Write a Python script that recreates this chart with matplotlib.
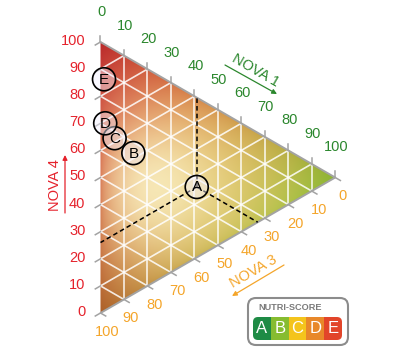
import numpy as np
import matplotlib
matplotlib.use('Agg')
import matplotlib.pyplot as plt
from matplotlib.patches import Polygon, Circle, FancyBboxPatch, Rectangle

plt.rcParams['font.family'] = ['Liberation Sans', 'DejaVu Sans']

# 数据 (百分比)
points = ['A', 'B', 'C', 'D', 'E']
nova1 = [41, 14, 6, 2, 1.5]
nova3 = [33, 34, 32.5, 29, 13]
nova4 = [26, 52, 61.5, 69, 85.5]
ticks = list(range(0, 101, 10))
score_letters = ['A', 'B', 'C', 'D', 'E']
score_colors = ['#1e8b45', '#86bc30', '#f4c41c', '#e8882a', '#e2452a']

RED = '#e5222c'
GREEN = '#2b872d'
ORANGE = '#f4a52a'
GRAY = '#a3a3a3'

R3 = np.sqrt(3) / 2
S = 271.0            # 每单位像素
OX, OY = 100.5, 313.0  # 左下角顶点像素位置


def tern(n1, n4):
    """(NOVA1, NOVA4) 百分比 -> 笛卡尔坐标"""
    n1 = np.asarray(n1, dtype=float) / 100.0
    n4 = np.asarray(n4, dtype=float) / 100.0
    return n1 * R3, n4 + 0.5 * n1


def px(d):
    return d / S


def P(xp, yp):
    return (xp - OX) / S, (OY - yp) / S


fig = plt.figure(figsize=(4, 3.54), dpi=100)
ax = fig.add_axes([0, 0, 1, 1])
ax.axis('off')

# 渐变背景
res = 500
X, Y = np.meshgrid(np.linspace(0, R3, res), np.linspace(0, 1, res))
b1 = np.clip(X / R3, 0, 1)
b4 = np.clip(Y - 0.5 * b1, 0, 1)
b3 = np.clip(1 - b1 - b4, 0, 1)

c4 = np.array([185, 40, 42])
c1 = np.array([140, 180, 50])
c3 = np.array([172, 95, 40])
m41 = np.array([210, 140, 70])
m13 = np.array([198, 182, 80])
m34 = np.array([212, 105, 72])
q41 = 2 * m41 - (c4 + c1) / 2
q13 = 2 * m13 - (c1 + c3) / 2
q34 = 2 * m34 - (c3 + c4) / 2

w = [b1 ** 2, b3 ** 2, b4 ** 2, 2 * b4 * b1, 2 * b1 * b3, 2 * b3 * b4]
cs = [c1, c3, c4, q41, q13, q34]
img = sum(wi[..., None] * ci for wi, ci in zip(w, cs))

edge = np.clip(27 * b1 * b3 * b4, 0, 1) ** 0.4
for gx, gy, sig, amt, col in [(0.36, 0.45, 0.26, 0.55, (232, 215, 120)),
                              (0.17, 0.46, 0.19, 0.85, (251, 243, 200))]:
    g = amt * edge * np.exp(-((X - gx) ** 2 + (Y - gy) ** 2) / (2 * sig ** 2))
    img = img * (1 - g[..., None]) + np.array(col) * g[..., None]
img = np.clip(img / 255.0, 0, 1)

im = ax.imshow(img, extent=(0, R3, 0, 1), origin='lower',
               interpolation='bilinear', zorder=1)
tri = Polygon([(0, 0), (0, 1), (R3, 0.5)], closed=True,
              facecolor='none', edgecolor='none')
ax.add_patch(tri)
im.set_clip_path(tri)

# 网格
for k in ticks[1:-1]:
    segs = [(tern([k, k], [100 - k, 0])),
            (tern([0, 100 - k], [k, k])),
            (tern([0, 100 - k], [100 - k, 0]))]
    for sx, sy in segs:
        ax.plot(sx, sy, color='white', lw=1.2, alpha=0.85, zorder=2)

# 边框
ex, ey = tern([0, 100, 0], [100, 0, 0])
ax.plot(ex, ey, color=GRAY, lw=1.4, zorder=3, solid_capstyle='butt')

# 刻度和刻度标签
L = px(6)
for k in ticks:
    x, y = tern(k, 100 - k)
    ax.plot([x, x], [y, y + L], color=GRAY, lw=1.1, zorder=3)
    ax.text(x + px(1), y + px(30), str(k), color=GREEN, fontsize=10.5,
            ha='center', va='center')

    x, y = tern(0, k)
    ax.plot([x, x - R3 * L], [y, y - 0.5 * L], color=GRAY, lw=1.1, zorder=3)
    ax.text(x - px(15), y + px(1), str(k), color=RED, fontsize=10.5,
            ha='right', va='center')

    x, y = tern(100 - k, 0)
    ax.plot([x, x + R3 * L], [y, y - 0.5 * L], color=GRAY, lw=1.1, zorder=3)
    ax.text(x + px(7), y - px(19), str(k), color=ORANGE, fontsize=10.5,
            ha='center', va='center')

# 轴标题
ax.text(*P(255, 71), 'NOVA 1', color=GREEN, fontsize=10.5, rotation=-30,
        ha='center', va='center', rotation_mode='anchor')
ax.annotate('', xy=P(277, 94), xytext=P(225, 65),
            arrowprops=dict(arrowstyle='-|>', color=GREEN, lw=0.9,
                            mutation_scale=7, shrinkA=0, shrinkB=0))
ax.text(*P(55, 185), 'NOVA 4', color=RED, fontsize=10.5, rotation=90,
        ha='center', va='center', rotation_mode='anchor')
ax.annotate('', xy=P(65, 155), xytext=P(65, 213),
            arrowprops=dict(arrowstyle='-|>', color=RED, lw=0.9,
                            mutation_scale=7, shrinkA=0, shrinkB=0))
ax.text(*P(253, 272), 'NOVA 3', color=ORANGE, fontsize=10.5, rotation=30,
        ha='center', va='center', rotation_mode='anchor')
ax.annotate('', xy=P(232, 296), xytext=P(284, 265),
            arrowprops=dict(arrowstyle='-|>', color=ORANGE, lw=0.9,
                            mutation_scale=7, shrinkA=0, shrinkB=0))

# A 点的虚线
a1, a3, a4 = nova1[0], nova3[0], nova4[0]
ax0, ay0 = tern(a1, a4)
for tx, ty in [tern(a1, 100 - a1), tern(0, a4), tern(100 - a3, 0)]:
    ax.plot([ax0, tx], [ay0, ty], color='black', lw=1.1,
            dashes=(3, 2), zorder=4)

# 点
xs, ys = tern(nova1, nova4)
for lab, x, y in zip(points, xs, ys):
    ax.add_patch(Circle((x, y), px(11.5), facecolor=(0.95, 0.94, 1.0, 0.45),
                        edgecolor='black', lw=1.2, zorder=5))
    ax.text(x, y - px(0.5), lab, fontsize=11, ha='center', va='center',
            color='black', zorder=6)

# Nutri-Score 标志
x0, y0 = P(248, 345)
ax.add_patch(FancyBboxPatch((x0, y0), px(100), px(47),
                            boxstyle='round,pad=0,rounding_size=%f' % px(8),
                            facecolor='white', edgecolor='#8c8c8c',
                            lw=1.5, zorder=5))
ax.text(*P(258, 307), 'NUTRI-SCORE', color='#7b7b7b', fontsize=6.6,
        fontweight='bold', ha='left', va='center', zorder=6)
bx, by = P(253, 340)
bw, bh = px(89), px(23)
clip = FancyBboxPatch((bx, by), bw, bh,
                      boxstyle='round,pad=0,rounding_size=%f' % px(5),
                      facecolor='none', edgecolor='none', zorder=6)
ax.add_patch(clip)
cw = bw / len(score_letters)
for i, (lab, col) in enumerate(zip(score_letters, score_colors)):
    r = Rectangle((bx + i * cw, by), cw, bh, facecolor=col,
                  edgecolor='none', zorder=6)
    ax.add_patch(r)
    r.set_clip_path(clip)
    ax.text(bx + (i + 0.5) * cw, by + bh / 2, lab, color='white',
            fontsize=12, ha='center', va='center', zorder=7)

ax.set_xlim(-OX / S, (400 - OX) / S)
ax.set_ylim((OY - 354) / S, OY / S)
ax.set_aspect('auto')

fig.savefig('out.png', dpi=100)
